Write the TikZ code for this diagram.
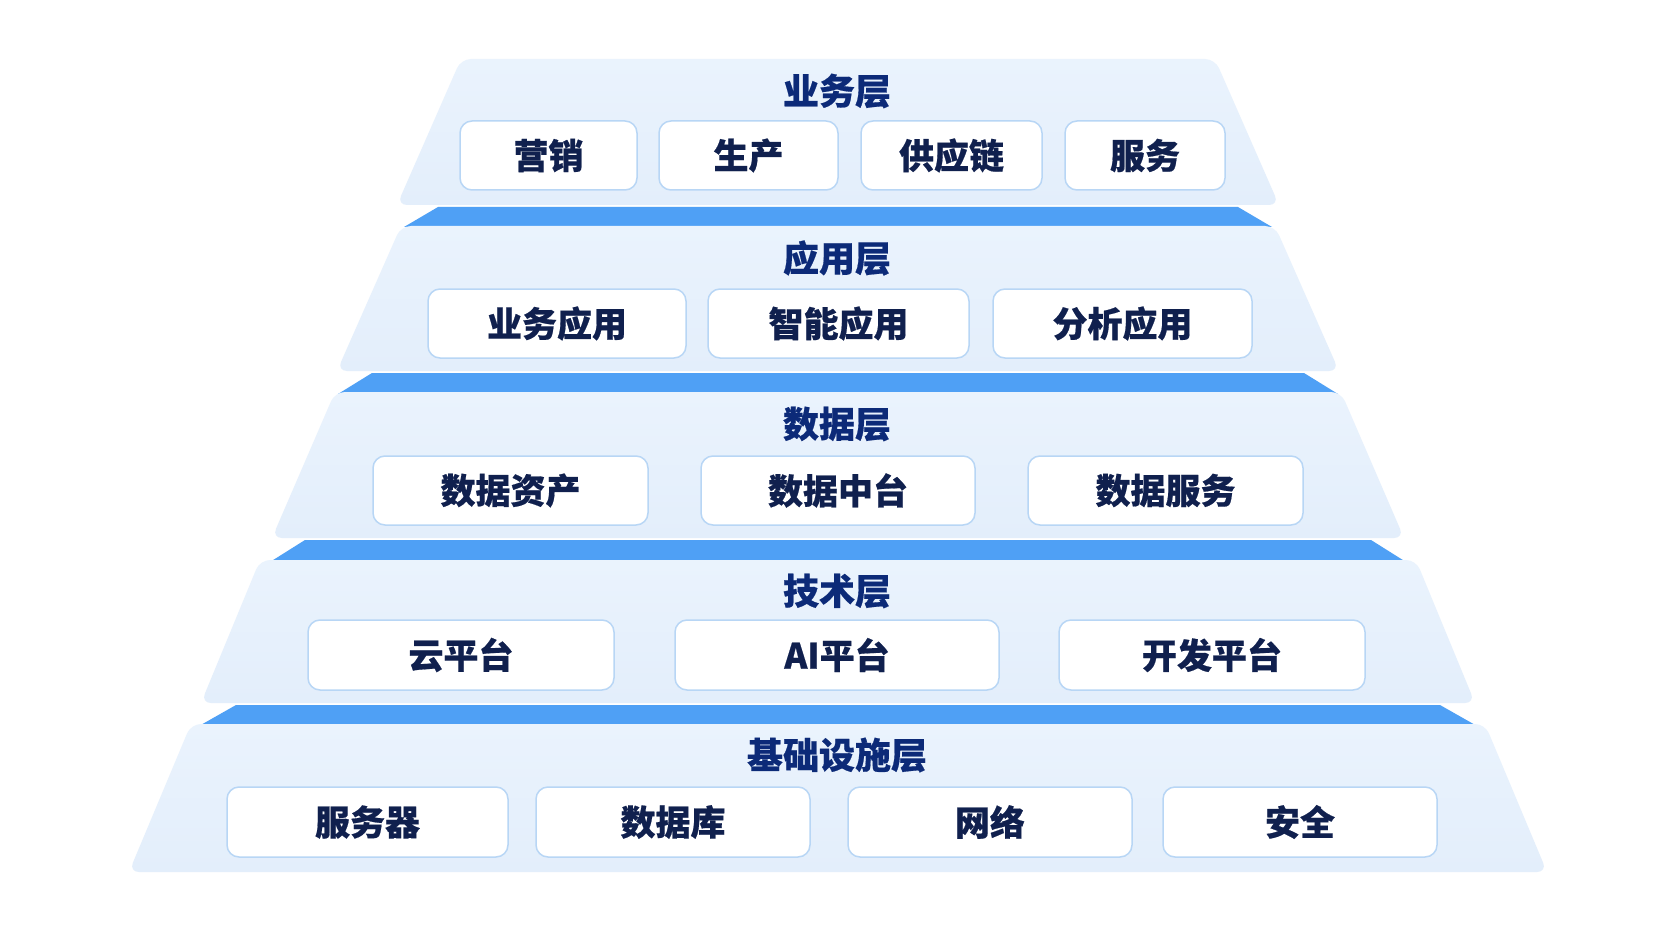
\documentclass[tikz,border=0pt]{standalone}
\usepackage{fontspec}
\setmainfont{Noto Sans CJK SC}[BoldFeatures={FakeBold=0.5}]
\definecolor{layerfill}{HTML}{E6F1FC}
\definecolor{layertop}{HTML}{EAF3FD}
\definecolor{layerbot}{HTML}{E3EEFB}
\definecolor{bandblue}{HTML}{4FA0F5}
\definecolor{boxborder}{HTML}{B8D6F5}
\definecolor{titleblue}{HTML}{0C2A78}
\definecolor{textnavy}{HTML}{10204E}
\tikzset{
  layershape/.style={top color=layertop, bottom color=layerbot, draw=none, rounded corners=10pt},
  bandshape/.style={fill=bandblue, draw=none},
  layertitle/.style={font=\fontsize{36}{42}\selectfont\bfseries, text=titleblue, inner sep=0pt},
  itembox/.style={draw=boxborder, line width=1.5pt, fill=white, rounded corners=12pt,
    inner sep=0pt, font=\fontsize{35}{41}\selectfont\bfseries, text=textnavy}
}
\newcommand\drawlayer[4]{%
  \shade[layershape] ({838-#3},#1) -- ({838+#3},#1) -- ({838+#4},#2) -- ({838-#4},#2) -- cycle;}
\newcommand\drawband[4]{%
  \fill[bandshape] ({838-#3},#1) -- ({838+#3},#1) -- ({838+#4},#2) -- ({838-#4},#2) -- cycle;}
\begin{document}
\begin{tikzpicture}[x=1pt,y=-1pt]
\useasboundingbox (0,0) rectangle (1672,941);
\fill[white] (0,0) rectangle (1672,941);
% bands
\drawband{207}{227}{400}{434}
\drawband{373}{394}{466}{500}
\drawband{540}{562}{533}{568}
\drawband{705}{726}{602}{639}
% layers
\drawlayer{59}{205}{377}{441}
\drawlayer{226}{371}{437}{501}
\drawlayer{392}{538}{503}{566}
\drawlayer{560}{703}{578}{637}
\drawlayer{724}{872}{647}{709}
% titles
\node[layertitle] (t1) at (837,91) {业务层};
\node[layertitle] (t2) at (837,258) {应用层};
\node[layertitle] (t3) at (837,424) {数据层};
\node[layertitle] (t4) at (837,591) {技术层};
\node[layertitle] (t5) at (837,755) {基础设施层};
% layer 1
\node[itembox, minimum width=177pt, minimum height=69pt] (a1) at (548.5,155.5) {营销};
\node[itembox, minimum width=179pt, minimum height=69pt] (a2) at (748.5,155.5) {生产};
\node[itembox, minimum width=181pt, minimum height=69pt] (a3) at (951.5,155.5) {供应链};
\node[itembox, minimum width=160pt, minimum height=69pt] (a4) at (1145,155.5) {服务};
% layer 2
\node[itembox, minimum width=258pt, minimum height=69pt] (b1) at (557,323.5) {业务应用};
\node[itembox, minimum width=261pt, minimum height=69pt] (b2) at (838.5,323.5) {智能应用};
\node[itembox, minimum width=259pt, minimum height=69pt] (b3) at (1122.5,323.5) {分析应用};
% layer 3
\node[itembox, minimum width=275pt, minimum height=69pt] (c1) at (510.5,490.5) {数据资产};
\node[itembox, minimum width=274pt, minimum height=69pt] (c2) at (838,490.5) {数据中台};
\node[itembox, minimum width=275pt, minimum height=69pt] (c3) at (1165.5,490.5) {数据服务};
% layer 4
\node[itembox, minimum width=306pt, minimum height=70pt] (d1) at (461,655) {云平台};
\node[itembox, minimum width=324pt, minimum height=70pt] (d2) at (837,655) {AI平台};
\node[itembox, minimum width=306pt, minimum height=70pt] (d3) at (1212,655) {开发平台};
% layer 5
\node[itembox, minimum width=281pt, minimum height=70pt] (e1) at (367.5,822) {服务器};
\node[itembox, minimum width=274pt, minimum height=70pt] (e2) at (673,822) {数据库};
\node[itembox, minimum width=284pt, minimum height=70pt] (e3) at (990,822) {网络};
\node[itembox, minimum width=274pt, minimum height=70pt] (e4) at (1300,822) {安全};
\end{tikzpicture}
\end{document}
